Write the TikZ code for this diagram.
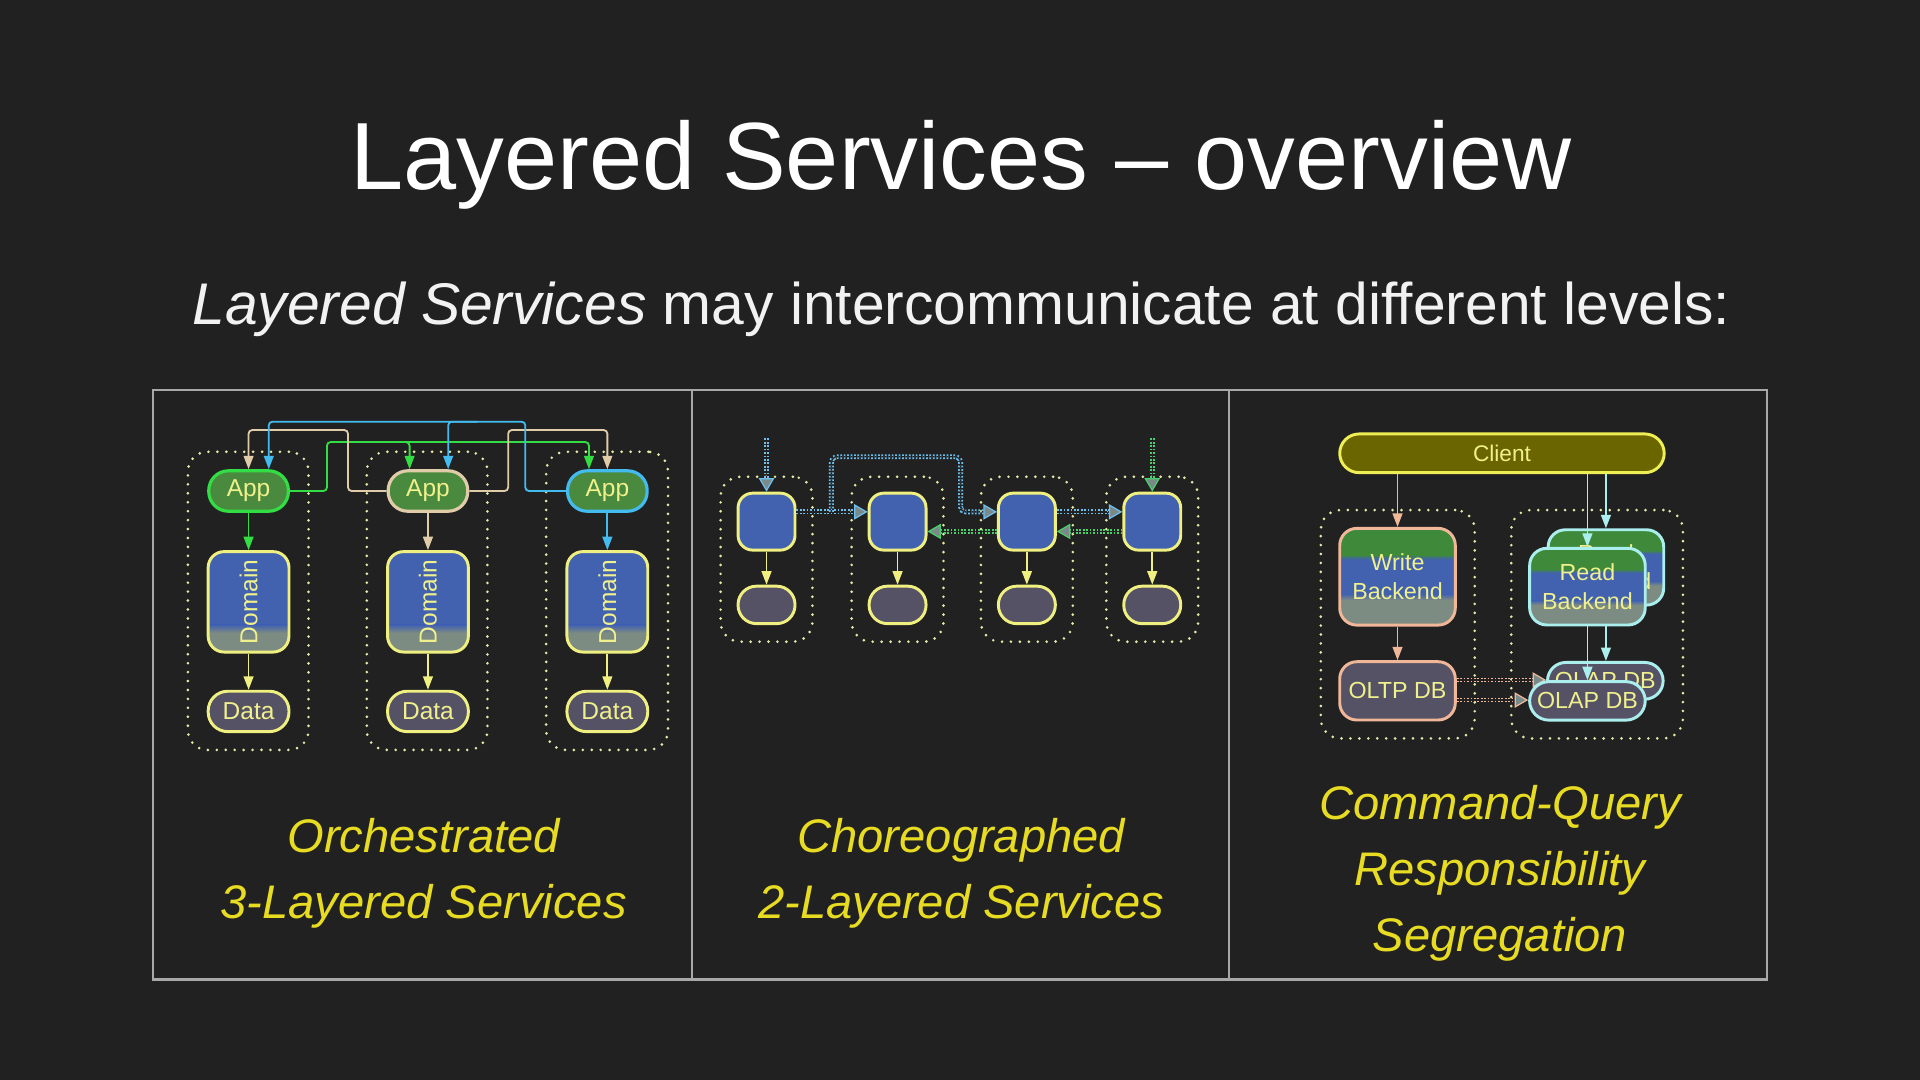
\documentclass[tikz,border=0pt]{standalone}
\usepackage{fontspec}
\setmainfont{Liberation Sans}
\usepackage{graphicx}
\usetikzlibrary{arrows.meta,calc}
\definecolor{bg}{HTML}{212121}
\definecolor{framec}{HTML}{A8A8A8}
\definecolor{subw}{HTML}{F2F2F2}
\definecolor{capy}{HTML}{E8DC22}
\definecolor{ntext}{HTML}{F0F08C}
\definecolor{appg}{HTML}{4A8A3E}
\definecolor{appb1}{HTML}{33DD44}
\definecolor{beige}{HTML}{E0CCA8}
\definecolor{skyb}{HTML}{44BBEE}
\definecolor{nyel}{HTML}{F0F080}
\definecolor{dblue}{HTML}{4262B0}
\definecolor{dgrey}{HTML}{7D8C82}
\definecolor{dgreen}{HTML}{3F8A3A}
\definecolor{datag}{HTML}{555266}
\definecolor{dotc}{HTML}{E4E8A8}
\definecolor{olive}{HTML}{6B6500}
\definecolor{cliy}{HTML}{EEEE55}
\definecolor{salmon}{HTML}{F0B898}
\definecolor{cyanl}{HTML}{AAEEEE}
\definecolor{dotblue}{HTML}{6EC0EE}
\definecolor{dotgreen}{HTML}{48D06A}
\definecolor{tipg}{HTML}{7A8A8A}
\newcommand\bandfill[3]{\fill[#1, sharp corners] let \p1=(path picture bounding box.south west), \p2=(path picture bounding box.north east) in (\x1,{\y1+#2*(\y2-\y1)}) rectangle (\x2,{\y1+#3*(\y2-\y1)});}
\newcommand\bandshade[4]{\shade[bottom color=#1, top color=#2, sharp corners] let \p1=(path picture bounding box.south west), \p2=(path picture bounding box.north east) in (\x1,{\y1+#3*(\y2-\y1)}) rectangle (\x2,{\y1+#4*(\y2-\y1)});}
\tikzset{
  every node/.style={inner sep=0pt},
  domshade/.style={path picture={
    \bandfill{dblue}{0}{1}
    \bandfill{dgrey}{0}{0.19}
    \bandshade{dgrey}{dblue}{0.19}{0.27}
  }},
  beshade/.style={path picture={
    \bandfill{dgreen}{0}{1}
    \bandfill{dgrey}{0}{0.26}
    \bandshade{dgrey}{dblue}{0.26}{0.32}
    \bandfill{dblue}{0.32}{0.68}
    \bandshade{dblue}{dgreen}{0.68}{0.73}
  }},
  appnode/.style={rectangle, rounded corners=16pt, minimum width=65pt, minimum height=33pt, fill=appg, line width=2.6pt, text=ntext, font=\fontsize{20}{24}\selectfont},
  domnode/.style={rectangle, rounded corners=13pt, minimum width=66pt, minimum height=82pt, domshade, draw=nyel, line width=2.4pt, text=ntext, font=\fontsize{20}{24}\selectfont},
  datanode/.style={rectangle, rounded corners=16pt, minimum width=66pt, minimum height=33pt, fill=datag, draw=nyel, line width=2.4pt, text=ntext, font=\fontsize{20}{24}\selectfont},
  container/.style={rectangle, rounded corners=16pt, draw=dotc, line width=2.4pt, line cap=round, dash pattern=on 0pt off 7.3pt},
  conn/.style={line width=1.5pt, rounded corners=3pt, -{Triangle[length=11pt,width=8pt]}},
  svc/.style={rectangle, rounded corners=12pt, minimum width=46.5pt, minimum height=46.5pt, fill=dblue, draw=nyel, line width=2.4pt},
  svcdb/.style={rectangle, rounded corners=15pt, minimum width=46.5pt, minimum height=30.6pt, fill=datag, draw=nyel, line width=2.4pt},
  ddot/.style={line width=1.4pt, double=bg, double distance=1.2pt, dash pattern=on 1.4pt off 1.4pt, rounded corners=4pt, shorten >=10pt},
  dtip/.style={line width=1pt, -{Triangle[length=11pt,width=12.5pt,fill=tipg]}},
  client/.style={rectangle, rounded corners=15.8pt, minimum width=265pt, minimum height=31.6pt, fill=olive, draw=cliy, line width=2.4pt, text=ntext, font=\fontsize{18.5}{22}\selectfont},
  backend/.style={rectangle, rounded corners=14pt, minimum width=94.4pt, beshade, line width=2.4pt, text=ntext, align=center, font=\fontsize{19}{23}\selectfont},
  dbnode/.style={rectangle, minimum width=94.4pt, fill=datag, line width=2.4pt, text=ntext, font=\fontsize{19}{23}\selectfont},
  caption/.style={anchor=base, text=capy, font=\fontsize{38.5}{46}\selectfont\itshape}
}
\begin{document}
\begin{tikzpicture}[x=1pt,y=-1pt]
\fill[bg] (0,0) rectangle (1568,882);
\useasboundingbox (0,0) rectangle (1568,882);

% titles
\node[anchor=base, text=white, font=\fontsize{78}{90}\selectfont] (title) at (785,155) {Layered Services – overview};
\node[anchor=base, text=subw, font=\fontsize{48}{56}\selectfont] (sub) at (785,265) {\textit{Layered Services} may intercommunicate at different levels:};

% frame
\draw[framec, line width=2pt] (125,318.5) rectangle (1443,800);
\draw[framec, line width=2pt] (565,318.5) -- (565,800);
\draw[framec, line width=2pt] (1003.5,318.5) -- (1003.5,800);

% ---------- panel 1 ----------
\node[container, minimum width=98.5pt, minimum height=243.5pt] (c1) at (202.7,490.7) {};
\node[container, minimum width=98.5pt, minimum height=243.5pt] (c2) at (348.8,490.7) {};
\node[container, minimum width=99.5pt, minimum height=243.5pt] (c3) at (495.8,490.7) {};

\node[appnode, draw=appb1] (a1) at (203,401) {App};
\node[appnode, draw=beige] (a2) at (349.5,401) {App};
\node[appnode, draw=skyb] (a3) at (496,401) {App};
\foreach \i/\x in {1/203,2/349.5,3/496}{
  \node[domnode] (d\i) at (\x,491.5) {\rotatebox{90}{Domain}};
  \node[datanode] (t\i) at (\x,581) {Data};
  \draw[conn, nyel] (d\i.south) -- (t\i.north);
}
\draw[conn, appb1] (a1.south) -- (d1.north);
\draw[conn, beige] (a2.south) -- (d2.north);
\draw[conn, skyb] (a3.south) -- (d3.north);

% green from App1
\draw[conn, appb1] (a1.east) -| (267,361) -| ([xshift=-15pt]a3.north);
\draw[conn, appb1] (310,361) -| ([xshift=-15pt]a2.north);
% beige from App2
\draw[conn, beige] (a2.west) -| (284.2,351.2) -| (a1.north);
\draw[conn, beige] (a2.east) -| (415,351.2) -| (a3.north);
% blue from App3
\draw[conn, skyb] (a3.west) -| (429,344.4) -| ([xshift=16.5pt]a1.north);
\draw[conn, skyb] (390,344.4) -| ([xshift=16.5pt]a2.north);

\node[caption] (cap1a) at (346,696) {Orchestrated};
\node[caption] (cap1b) at (346,750) {3-Layered Services};

% ---------- panel 2 ----------
\foreach \i/\x in {1/626,2/733,3/838.6,4/941}{
  \node[container, minimum width=75pt, minimum height=134.7pt] (k\i) at (\x,456.7) {};
  \node[svc] (n\i) at (\x,426) {};
  \node[svcdb] (b\i) at (\x,494) {};
  \draw[conn, nyel] (n\i.south) -- (b\i.north);
}
\coordinate (in1) at (626,358);
\coordinate (in4) at (941,358);
% blue
\draw[ddot, dotblue] (in1) -- (n1.north);
\draw[dtip, dotblue] ($(n1.north)+(0,-2)$) -- (n1.north);
\draw[ddot, dotblue] (n1.east |- 0,418) -- (n2.west |- 0,418);
\draw[dtip, dotblue] ($(n2.west |- 0,418)+(-2,0)$) -- (n2.west |- 0,418);
\draw[ddot, dotblue] (679,418) -- (679,373) -- (784.5,373) -- (784.5,418) -- (n3.west |- 0,418);
\draw[dtip, dotblue] ($(n3.west |- 0,418)+(-2,0)$) -- (n3.west |- 0,418);
\draw[ddot, dotblue] (n3.east |- 0,418) -- (n4.west |- 0,418);
\draw[dtip, dotblue] ($(n4.west |- 0,418)+(-2,0)$) -- (n4.west |- 0,418);
% green
\draw[ddot, dotgreen] (in4) -- (n4.north);
\draw[dtip, dotgreen] ($(n4.north)+(0,-2)$) -- (n4.north);
\draw[ddot, dotgreen] (n4.west |- 0,434) -- (n3.east |- 0,434);
\draw[dtip, dotgreen] ($(n3.east |- 0,434)+(2,0)$) -- (n3.east |- 0,434);
\draw[ddot, dotgreen] (n3.west |- 0,434) -- (n2.east |- 0,434);
\draw[dtip, dotgreen] ($(n2.east |- 0,434)+(2,0)$) -- (n2.east |- 0,434);

\node[caption] (cap2a) at (785,696) {Choreographed};
\node[caption] (cap2b) at (785,750) {2-Layered Services};

% ---------- panel 3 ----------
\node[container, minimum width=125.7pt, minimum height=186.5pt] (kl) at (1141.5,509.8) {};
\node[container, minimum width=140.2pt, minimum height=186.5pt] (kr) at (1304.3,509.8) {};
\node[client] (cl) at (1226.6,370.2) {Client};
\node[backend, draw=salmon, minimum height=79pt] (wb) at (1141.3,471) {Write\\Backend};
\node[dbnode, draw=salmon, rounded corners=14pt, minimum height=47.6pt] (oltp) at (1141.3,564.2) {OLTP DB};
\draw[conn, salmon] (cl.south -| wb.north) -- (wb.north);
\draw[conn, salmon] (wb.south) -- (oltp.north);

% back copies
\node[backend, draw=cyanl, minimum height=61.5pt] (rb2) at (1311.5,463.4) {Read\\Backend};
\node[dbnode, draw=cyanl, rounded corners=15pt, minimum height=30pt] (ol2) at (1311,556) {OLAP DB};
\draw[conn, cyanl] (cl.south -| rb2.north) -- (rb2.north);
\draw[conn, cyanl] (rb2.south) -- (ol2.north -| rb2.south);
\draw[ddot, salmon] (oltp.east |- 0,555.3) -- (ol2.west |- 0,555.3);
\draw[dtip, salmon] ($(ol2.west |- 0,555.3)+(-2,0)$) -- (ol2.west |- 0,555.3);

% front copies
\node[backend, draw=cyanl, minimum height=62.6pt] (rb1) at (1296.4,479.1) {Read\\Backend};
\node[dbnode, draw=cyanl, rounded corners=15.7pt, minimum height=31.4pt] (ol1) at (1296.4,572.4) {OLAP DB};
\draw[conn, cyanl] (cl.south -| rb1.north) -- (rb1.north);
\draw[conn, cyanl] (rb1.south) -- (ol1.north);
\draw[ddot, salmon] (oltp.east |- 0,571.7) -- (ol1.west |- 0,571.7);
\draw[dtip, salmon] ($(ol1.west |- 0,571.7)+(-2,0)$) -- (ol1.west |- 0,571.7);

\node[caption] (cap3a) at (1225,669) {Command-Query};
\node[caption] (cap3b) at (1225,723) {Responsibility};
\node[caption] (cap3c) at (1225,777) {Segregation};
\end{tikzpicture}
\end{document}
